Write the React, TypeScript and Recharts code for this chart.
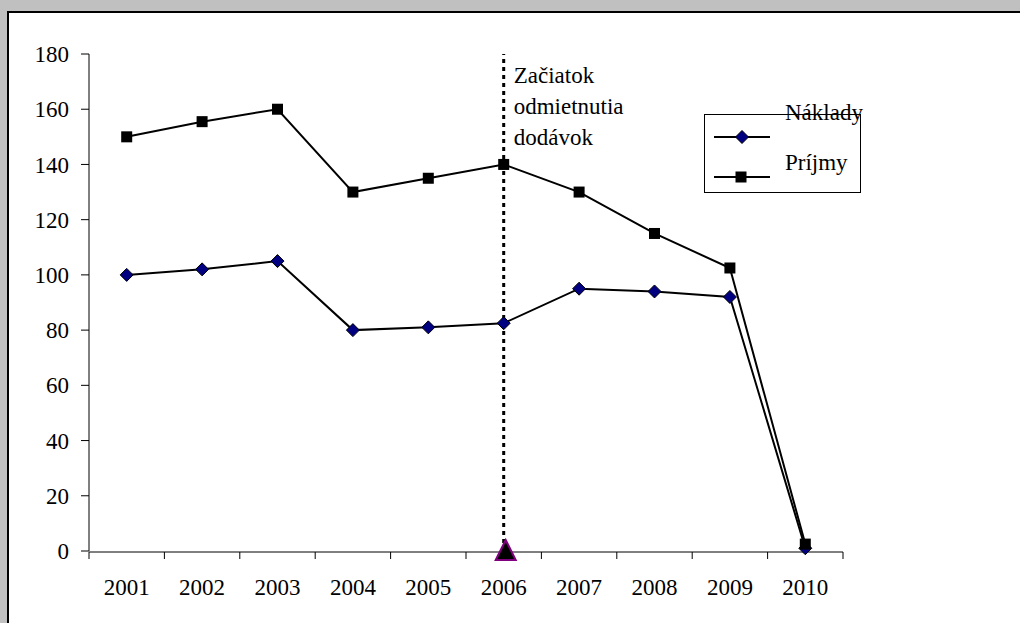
import React from "react";
import {
  LineChart,
  Line,
  XAxis,
  YAxis,
  ReferenceLine,
  ReferenceDot,
  Legend,
} from "recharts";

// Náklady a príjmy 2001–2010, vertikálna čiara = začiatok odmietnutia dodávok
const years = ["2001", "2002", "2003", "2004", "2005", "2006", "2007", "2008", "2009", "2010"];
const naklady = [100, 102, 105, 80, 81, 82.5, 95, 94, 92, 1];
const prijmy = [150, 155.5, 160, 130, 135, 140, 130, 115, 102.5, 2.5];
const yTicks = [0, 20, 40, 60, 80, 100, 120, 140, 160, 180];
const boundaryTicks = [0, 1, 2, 3, 4, 5, 6, 7, 8, 9, 10];
const noteLines = ["Začiatok", "odmietnutia", "dodávok"];
const markerYear = "2006";

const data = years.map((year, i) => ({ year, naklady: naklady[i], prijmy: prijmy[i] }));

const FONT = "Liberation Serif, DejaVu Serif, serif";
const tickStyle = { fill: "#000", fontSize: 23, fontFamily: FONT };

const Diamond = ({ cx, cy }: any) =>
  cx == null ? null : (
    <polygon
      points={`${cx},${cy - 6.5} ${cx + 6.5},${cy} ${cx},${cy + 6.5} ${cx - 6.5},${cy}`}
      fill="#000080"
      stroke="#000"
      strokeWidth={1}
    />
  );

const Square = ({ cx, cy }: any) =>
  cx == null ? null : <rect x={cx - 5.5} y={cy - 5.5} width={11} height={11} fill="#000" />;

const Triangle = ({ cx, cy }: any) => (
  <polygon
    points={`${cx + 2},${cy - 11} ${cx + 12},${cy + 9} ${cx - 8},${cy + 9}`}
    fill="#000"
    stroke="#800080"
    strokeWidth={2}
  />
);

const NoTick = () => <g />;

const NoteLabel = ({ viewBox }: any) => {
  const { x, y } = viewBox;
  return (
    <text x={x + 10} y={y + 29} fontSize={23} fontFamily={FONT} fill="#000">
      {noteLines.map((t, i) => (
        <tspan key={t} x={x + 10} dy={i === 0 ? 0 : 31}>
          {t}
        </tspan>
      ))}
    </text>
  );
};

const LegendBox = () => (
  <div style={{ width: 157, height: 79, border: "1px solid #000", boxSizing: "border-box" }}>
    <svg width={157} height={79} style={{ overflow: "visible", display: "block" }}>
      <text x={80} y={5} fontSize={23} fontFamily={FONT} fill="#000">
        Náklady
      </text>
      <text x={80} y={55} fontSize={23} fontFamily={FONT} fill="#000">
        Príjmy
      </text>
      <line x1={9} x2={65} y1={22} y2={22} stroke="#000" strokeWidth={2} />
      <Diamond cx={37} cy={22} />
      <line x1={9} x2={65} y1={62} y2={62} stroke="#000" strokeWidth={2} />
      <Square cx={36} cy={62} />
    </svg>
  </div>
);

export default function App() {
  return (
    <div
      style={{
        position: "absolute",
        left: 0,
        top: 0,
        width: 1020,
        height: 623,
        background: "#c0c0c0",
        overflow: "hidden",
        fontFamily: FONT,
      }}
    >
      <div
        style={{
          position: "absolute",
          left: 7,
          top: 11,
          width: 1020,
          height: 623,
          background: "#fff",
          borderLeft: "2px solid #000",
          borderTop: "2px solid #000",
        }}
      />
      <div style={{ position: "absolute", left: 0, top: 0 }}>
        <LineChart
          width={1020}
          height={623}
          data={data}
          margin={{ top: 54, right: 177, bottom: 70, left: 9 }}
        >
          <XAxis
            xAxisId="bounds"
            dataKey="bound"
            type="number"
            domain={[0, 10]}
            ticks={boundaryTicks}
            height={1}
            tick={<NoTick />}
            tickSize={7}
            axisLine={{ stroke: "#000", strokeWidth: 1 }}
            tickLine={{ stroke: "#000", strokeWidth: 1 }}
            interval={0}
            allowDataOverflow
          />
          <XAxis
            dataKey="year"
            scale="band"
            height={1}
            axisLine={false}
            tickLine={false}
            tickSize={0}
            tickMargin={28}
            tick={tickStyle}
            interval={0}
          />
          <YAxis
            domain={[0, 180]}
            ticks={yTicks}
            width={80}
            tickSize={8}
            tickMargin={12}
            tick={tickStyle}
            axisLine={{ stroke: "#000", strokeWidth: 1 }}
            tickLine={{ stroke: "#000", strokeWidth: 1 }}
            interval={0}
          />
          <Legend
            layout="horizontal"
            align="center"
            verticalAlign="middle"
            content={() => <LegendBox />}
            wrapperStyle={{ position: "absolute", left: 704, top: 114, width: 157, height: 79 }}
          />
          <ReferenceLine
            x={markerYear}
            stroke="#000"
            strokeWidth={3}
            strokeDasharray="4 4"
            label={<NoteLabel />}
          />
          <Line
            dataKey="naklady"
            name="Náklady"
            stroke="#000"
            strokeWidth={2}
            dot={<Diamond />}
            activeDot={false}
            isAnimationActive={false}
          />
          <Line
            dataKey="prijmy"
            name="Príjmy"
            stroke="#000"
            strokeWidth={2}
            dot={<Square />}
            activeDot={false}
            isAnimationActive={false}
          />
          <ReferenceDot x={markerYear} y={0} shape={<Triangle />} />
        </LineChart>
      </div>
    </div>
  );
}
